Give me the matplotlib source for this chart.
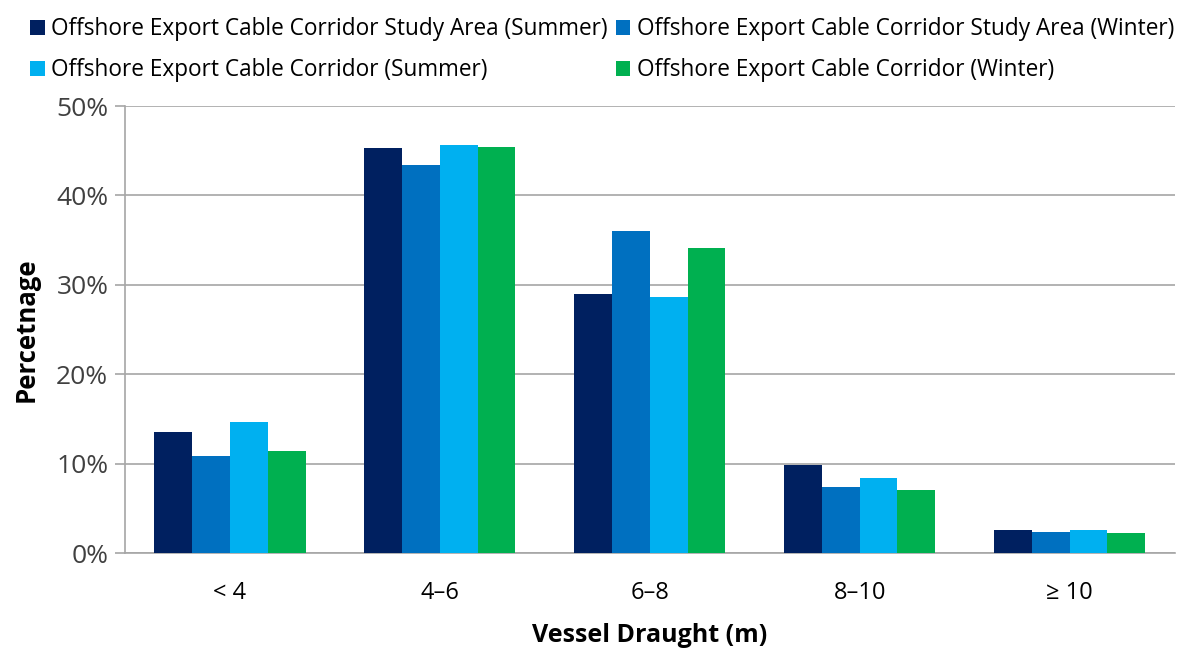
import matplotlib
matplotlib.use("Agg")
from matplotlib import pyplot as plt
from matplotlib.ticker import PercentFormatter
import numpy as np

plt.rcParams['font.family'] = ['Open Sans', 'DejaVu Sans']

categories = ["< 4", "4–6", "6–8", "8–10", "≥ 10"]
series_names = [
    "Offshore Export Cable Corridor Study Area (Summer)",
    "Offshore Export Cable Corridor Study Area (Winter)",
    "Offshore Export Cable Corridor (Summer)",
    "Offshore Export Cable Corridor (Winter)",
]
study_summer = [13.5, 45.3, 29.0, 9.9, 2.55]
study_winter = [10.8, 43.4, 36.0, 7.4, 2.4]
corridor_summer = [14.7, 45.7, 28.6, 8.4, 2.55]
corridor_winter = [11.4, 45.4, 34.1, 7.0, 2.2]
colors = ["#002060", "#0070C0", "#00B0F0", "#00B050"]

data = [study_summer, study_winter, corridor_summer, corridor_winter]

fig = plt.figure(figsize=(11.84, 6.51), dpi=100)
ax = fig.add_axes([0.1056, 0.1505, 0.8864, 0.6865])

x = np.arange(len(categories))
w = 0.18
bars = []
for i, (vals, name, c) in enumerate(zip(data, series_names, colors)):
    bars.append(ax.bar(x + (i - 1.5) * w, vals, w, color=c, label=name, zorder=3))

ax.set_xlim(-0.5, len(categories) - 0.5)
ax.set_ylim(0, 50)
ax.set_yticks(np.arange(0, 51, 10))
ax.yaxis.set_major_formatter(PercentFormatter(decimals=0))
ax.grid(axis='y', color='#a6a6a6', linewidth=1.2, zorder=0)
ax.set_xticks(x)
ax.set_xticklabels(categories, fontsize=17)
ax.tick_params(axis='y', labelsize=19, length=7, width=1.2, pad=5,
               labelcolor='#404040', color='#a6a6a6')
ax.tick_params(axis='x', length=0, pad=20, labelcolor='#000000')

for s in ['top', 'right']:
    ax.spines[s].set_visible(False)
ax.spines['left'].set_color('#a6a6a6')
ax.spines['bottom'].set_color('#a6a6a6')
ax.spines['left'].set_linewidth(1.2)
ax.spines['bottom'].set_linewidth(1.2)

ax.set_ylabel("Percetnage", fontsize=18.5, fontweight='bold', labelpad=12)
ax.set_xlabel("Vessel Draught (m)", fontsize=18, fontweight='bold', labelpad=13)

order = [0, 2, 1, 3]
fig.legend([bars[k] for k in order], [series_names[k] for k in order],
           loc='upper left', bbox_to_anchor=(0.008, 1.005), ncol=2, frameon=False,
           fontsize=16.3, handlelength=0.65, handleheight=0.65, handletextpad=0.3,
           columnspacing=0.35, labelspacing=0.75)

plt.savefig('out.png')
